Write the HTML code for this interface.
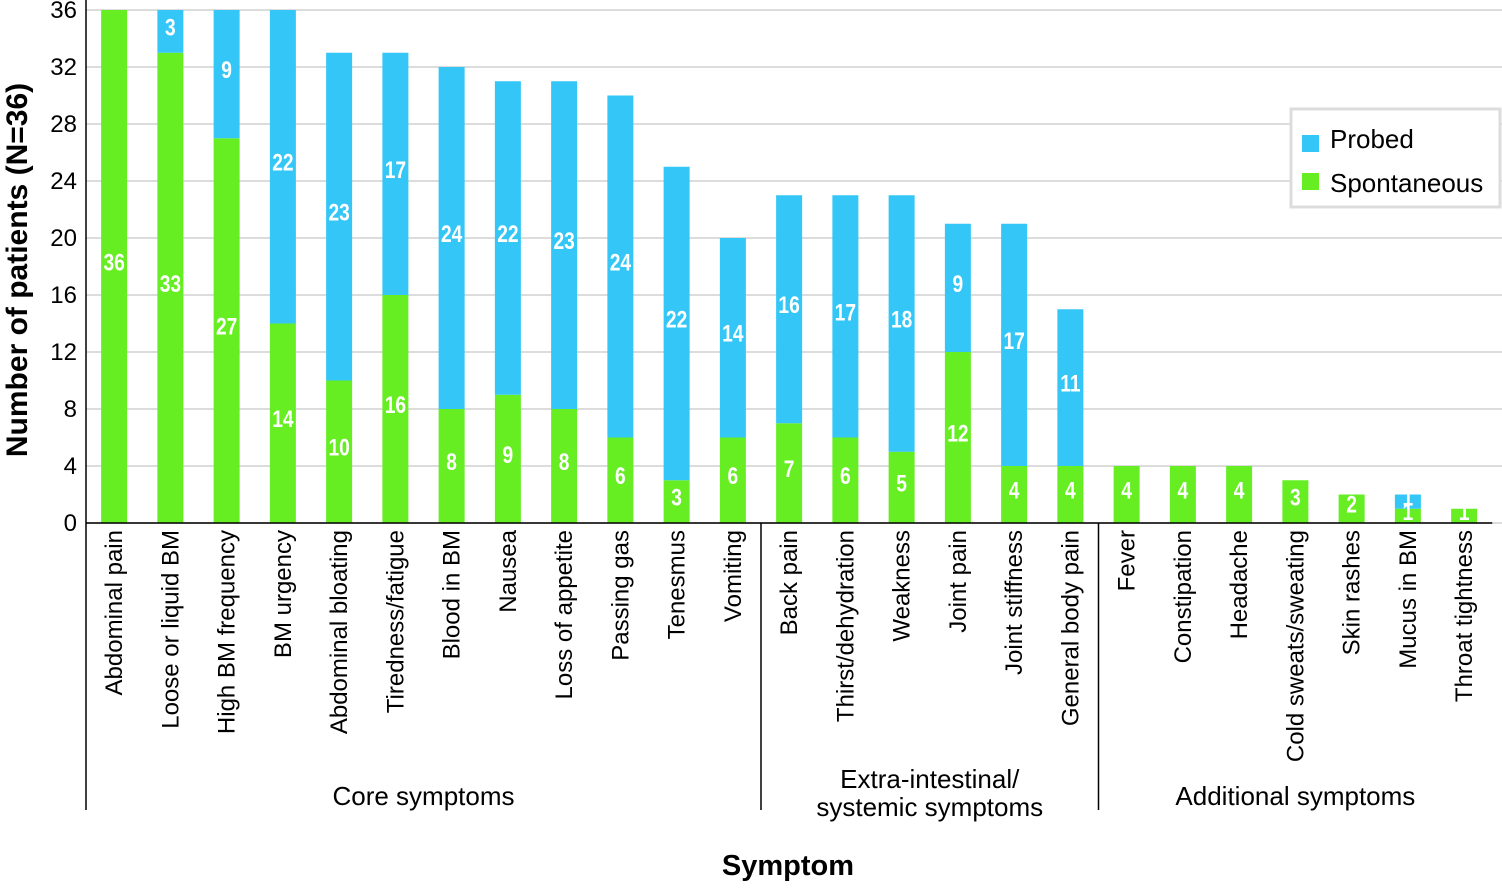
<!DOCTYPE html>
<html><head><meta charset="utf-8"><style>
html,body{margin:0;padding:0;background:#fff;}
svg text{font-family:"Liberation Sans",Arial,sans-serif;}
</style></head><body>
<svg id="chart" width="1502" height="887" viewBox="0 0 1502 887" xmlns="http://www.w3.org/2000/svg">
<g id="grid"></g><g id="bars"></g><g id="labels"></g><g id="axes"></g>
</svg>
<script>
const categories = ["Abdominal pain","Loose or liquid BM","High BM frequency","BM urgency","Abdominal bloating","Tiredness/fatigue","Blood in BM","Nausea","Loss of appetite","Passing gas","Tenesmus","Vomiting","Back pain","Thirst/dehydration","Weakness","Joint pain","Joint stiffness","General body pain","Fever","Constipation","Headache","Cold sweats/sweating","Skin rashes","Mucus in BM","Throat tightness"];
const spontaneous = [36,33,27,14,10,16,8,9,8,6,3,6,7,6,5,12,4,4,4,4,4,3,2,1,1];
const probed = [0,3,9,22,23,17,24,22,23,24,22,14,16,17,18,9,17,11,0,0,0,0,0,1,0];
const yTicks = [0,4,8,12,16,20,24,28,32,36];
const groups = [{name:["Core symptoms"],start:0,end:12},{name:["Extra-intestinal/","systemic symptoms"],start:12,end:18},{name:["Additional symptoms"],start:18,end:25}];

const NS="http://www.w3.org/2000/svg";
const left=86, band=56.25, y0=523, yTop=10, yMax=36, bw=26;
const y=v=>y0-(v/yMax)*(y0-yTop);
const xc=i=>left+band*(i+0.5);
function mk(tag,attrs,parent,text){const e=document.createElementNS(NS,tag);for(const k in attrs)e.setAttribute(k,attrs[k]);if(text!==undefined)e.textContent=text;parent.appendChild(e);return e;}
const G=document.getElementById('grid'),B=document.getElementById('bars'),L=document.getElementById('labels'),A=document.getElementById('axes');
const right=1502;
yTicks.forEach(t=>{
  const l=mk('line',{x1:left,x2:right,y1:y(t),y2:y(t),stroke:'#dcdcdc','stroke-width':2},G);
  
  
  const tx=mk('text',{x:77,y:y(t)+8,'text-anchor':'end','font-size':24,fill:'#000'},A,String(t));
  
  
});
categories.forEach((c,i)=>{
  const s=spontaneous[i],p=probed[i],x=xc(i)-bw/2;
  if(s>0){const r=mk('rect',{x:x,y:y(s),width:bw,height:y0-y(s),fill:'#66ee22'},B);
    
    
    const t=mk('text',{x:xc(i),y:y(s/2)+4,'text-anchor':'middle','font-size':24,'font-weight':'bold',fill:'#fff',transform:`translate(${xc(i)},0) scale(0.8,1) translate(${-xc(i)},0)`},L,String(s));
    
    }
  if(p>0){const r=mk('rect',{x:x,y:y(s+p),width:bw,height:y(s)-y(s+p),fill:'#33c6f6'},B);
    
    
    const t=mk('text',{x:xc(i),y:y(s+p/2)+4,'text-anchor':'middle','font-size':24,'font-weight':'bold',fill:'#fff',transform:`translate(${xc(i)},0) scale(0.8,1) translate(${-xc(i)},0)`},L,String(p));
    
    }
  const cl=mk('text',{x:0,y:0,'text-anchor':'end','font-size':24,fill:'#000',transform:`translate(${xc(i)+8},530) rotate(-90)`},A,c);
  
  
});
mk('line',{x1:left,x2:left,y1:0,y2:y0,stroke:'#000','stroke-width':1.5},A);
mk('line',{x1:left,x2:left+band*25,y1:y0,y2:y0,stroke:'#000','stroke-width':1.5},A);
groups.forEach((g,gi)=>{
  const xs=left+band*g.start;
  const l=mk('line',{x1:xs,x2:xs,y1:y0,y2:810,stroke:'#000','stroke-width':1.5},A);
  
  
  const cx=left+band*(g.start+g.end)/2;
  g.name.forEach((n,k)=>{
    const yy=g.name.length===1?805:788+k*28;
    const t=mk('text',{x:cx,y:yy,'text-anchor':'middle','font-size':26,fill:'#000'},A,n);
    
    
  });
});
</script>
<svg style="position:absolute;left:0;top:0" width="1502" height="887">
<text x="0" y="0" transform="translate(27,270) rotate(-90)" text-anchor="middle" font-size="30" font-weight="bold" font-family="Liberation Sans, sans-serif">Number of patients (N=36)</text>
<text x="788" y="875" text-anchor="middle" font-size="29" font-weight="bold" font-family="Liberation Sans, sans-serif">Symptom</text>
<g>
<rect x="1291" y="109" width="209" height="98" fill="#fff" stroke="#dcdcdc" stroke-width="3"/>
<rect x="1302" y="135" width="17" height="17" fill="#33c6f6"/>
<text x="1330" y="148" font-size="26" font-family="Liberation Sans, sans-serif">Probed</text>
<rect x="1302" y="173" width="17" height="17" fill="#66ee22"/>
<text x="1330" y="192" font-size="26" font-family="Liberation Sans, sans-serif">Spontaneous</text>
</g>
</svg>
</body></html>
